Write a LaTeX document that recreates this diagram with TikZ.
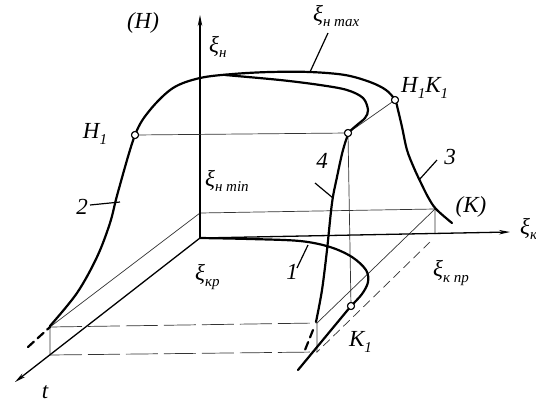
\documentclass[tikz,border=0pt]{standalone}
\usepackage{fontspec}
\setmainfont{Liberation Serif}
\usepackage{tikz}
\usetikzlibrary{arrows.meta}
\newcommand{\lo}[1]{\raisebox{-0.25em}{\fontsize{15}{16}\selectfont #1}}

\begin{document}
\begin{tikzpicture}[x=1pt,y=-1pt,
    curve/.style={line width=2.2pt, line cap=round},
    thinline/.style={line width=0.7pt, black!80},
    axis/.style={line width=1.3pt, -{Stealth[length=11pt,width=4.5pt]}},
    leader/.style={line width=1.2pt},
    pt/.style={circle, draw, line width=1pt, fill=white, inner sep=0pt, minimum size=7pt},
    lbl/.style={font=\fontsize{23}{25}\selectfont\itshape, inner sep=0pt}]
\useasboundingbox (0,0) rectangle (536,405);

\coordinate (O) at (200,238);
\coordinate (Otop) at (200,213);
\coordinate (BR) at (435,234);
\coordinate (BRtop) at (435,209);
\coordinate (FL) at (50,355);
\coordinate (FLtop) at (50,327);
\coordinate (FR) at (317,352);
\coordinate (FRtop) at (317,323);

\draw[thinline] (Otop) -- (BRtop) -- (BR);
\draw[thinline] (Otop) -- (FLtop) -- (FL);
\draw[thinline] (BRtop) -- (FRtop) -- (FR);
\draw[thinline, dash pattern=on 9pt off 5pt] (430,242) -- (FR);
\draw[thinline, dash pattern=on 32pt off 6pt] (FLtop) -- (FRtop);
\draw[thinline, dash pattern=on 32pt off 6pt] (FL) -- (FR);

\draw[axis] (O) -- (200,15);
\draw[axis] (O) -- (510,232);
\draw[axis] (O) -- (15,382);

\node[pt] (H1) at (135,135) {};
\node[pt] (N4) at (348,133) {};
\node[pt] (H1K1) at (395,100) {};
\node[pt] (K1) at (351,306) {};

\draw[thinline] (H1) -- (N4) -- (H1K1);
\draw[thinline] (N4) -- (K1);

\draw[curve, dash pattern=on 8pt off 5pt] (28,347) -- (FLtop);
\draw[curve] plot[smooth, tension=0.55] coordinates {(50,326) (77,293) (97,257) (110,223) (118,192) (135,135)
    (150,110) (173,88) (200,78) (233,74) (270,72) (310,72) (345,75) (370,82) (386,90) (395,100)
    (398,110) (402,127) (407,150) (414,168) (421,183) (428,197) (436,209) (452,223)};
\draw[curve] plot[smooth, tension=0.55] coordinates {(225,75) (280,80) (320,85) (347,90) (363,98) (368,110)
    (365,118) (357,125) (349,133) (343,150) (337,177) (332,203) (327,250) (322,290) (316,322)};
\draw[curve, dash pattern=on 8pt off 5pt] (313,330) -- (305,350);
\draw[curve] plot[smooth, tension=0.55] coordinates {(200,238) (250,239) (300,241) (330,247) (352,257)
    (366,270) (368,282) (362,294) (351,306)} -- (298,370);

\node[pt] at (H1) {};
\node[pt] at (N4) {};
\node[pt] at (H1K1) {};
\node[pt] at (K1) {};

\coordinate (amax) at (328,33);
\coordinate (bmax) at (310,72);
\coordinate (a4) at (315,183);
\coordinate (b4) at (333,198);
\coordinate (a3) at (437,160);
\coordinate (b3) at (419,180);
\coordinate (a2) at (90,205);
\coordinate (b2) at (120,202);
\coordinate (a1) at (297,268);
\coordinate (b1) at (308,245);
\draw[leader] (amax) -- (bmax);
\draw[leader] (a4) -- (b4);
\draw[leader] (a3) -- (b3);
\draw[leader] (a2) -- (b2);
\draw[leader] (a1) -- (b1);

\node[lbl] (lH) at (143,23) {(Н)};
\node[lbl, anchor=west] (lxn) at (209,47) {ξ\lo{н}};
\node[lbl, anchor=west] (lxmax) at (313,16) {ξ\lo{н max}};
\node[lbl, anchor=west] (lH1K1) at (401,88) {Н\lo{1}К\lo{1}};
\node[lbl] (lH1) at (95,134) {Н\lo{1}};
\node[lbl, anchor=west] (lxmin) at (205,181) {ξ\lo{н min}};
\node[lbl] (l4) at (322,161) {4};
\node[lbl] (l3) at (450,157) {3};
\node[lbl] (l2) at (82,207) {2};
\node[lbl] (lK) at (471,207) {(К)};
\node[lbl, anchor=west] (lxk) at (520,229) {ξ\lo{к}};
\node[lbl, anchor=west] (lxkpr) at (433,273) {ξ\lo{к пр}};
\node[lbl, anchor=west] (lxkr) at (195,277) {ξ\lo{кр}};
\node[lbl] (l1) at (292,272) {1};
\node[lbl, anchor=west] (lK1) at (349,342) {К\lo{1}};
\node[lbl] (lt) at (45,392) {t};
\end{tikzpicture}
\end{document}
